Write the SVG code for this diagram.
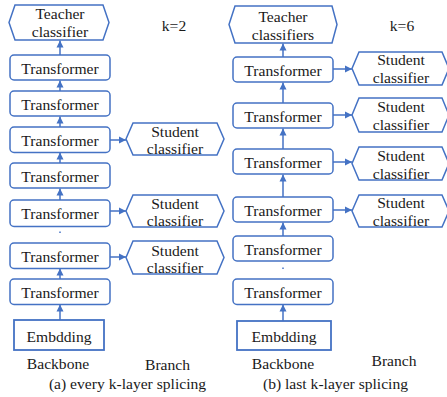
<svg xmlns="http://www.w3.org/2000/svg" width="447" height="397" viewBox="0 0 447 397" font-family="Liberation Serif, Times New Roman, DejaVu Serif, serif">
<defs>
<style>
.box{fill:#fff;stroke:#4472C4;stroke-width:1.5}
.hex{fill:#fff;stroke:#4472C4;stroke-width:1.5;stroke-linejoin:miter}
.emb{fill:#fff;stroke:#4472C4;stroke-width:1.8}
text{font-size:15.6px;fill:#1a1a1a;text-anchor:middle}
.c line{stroke:#4472C4;stroke-width:1.5}
.c .a{marker-end:url(#ah)}
</style>
<marker id="ah" markerUnits="userSpaceOnUse" markerWidth="8" markerHeight="8" refX="7" refY="4" orient="auto">
<path d="M0,0.5 L7,4 L0,7.5 z" fill="#4472C4"/>
</marker>
</defs>
<rect width="447" height="397" fill="#fff"/>

<g class="c" id="connectors">
<line class="a" x1="60" y1="55" x2="60" y2="40.5"/>
<line class="a" x1="60" y1="91" x2="60" y2="80.5"/>
<line class="a" x1="60" y1="127" x2="60" y2="116.5"/>
<line class="a" x1="60" y1="163" x2="60" y2="152.5"/>
<line class="a" x1="60" y1="200" x2="60" y2="188.5"/>
<line x1="60" y1="231.5" x2="60" y2="233" stroke-width="1"/>
<line class="a" x1="60" y1="279" x2="60" y2="268.5"/>
<line class="a" x1="60" y1="320" x2="60" y2="304.5"/>
<line class="a" x1="110" y1="140" x2="126" y2="140"/>
<line class="a" x1="110" y1="211" x2="126" y2="211"/>
<line class="a" x1="110" y1="257" x2="126" y2="257"/>
<line class="a" x1="283" y1="57" x2="283" y2="43.5"/>
<line class="a" x1="283" y1="103" x2="283" y2="82.5"/>
<line class="a" x1="283" y1="149" x2="283" y2="128.5"/>
<line class="a" x1="283" y1="197" x2="283" y2="174.5"/>
<line class="a" x1="283" y1="236" x2="283" y2="222.5"/>
<line x1="283" y1="267.5" x2="283" y2="269" stroke-width="1"/>
<line class="a" x1="283" y1="321" x2="283" y2="304.5"/>
<line class="a" x1="333" y1="69" x2="352" y2="69"/>
<line class="a" x1="333" y1="115" x2="352" y2="115"/>
<line class="a" x1="333" y1="162" x2="352" y2="162"/>
<line class="a" x1="333" y1="210" x2="352" y2="210"/>
</g>

<g id="teacher-a"><polygon class="hex" points="9,22.5 15,5 103,5 109,22.5 103,40 15,40"/><text x="60" y="19">Teacher</text><text x="60" y="37">classifier</text></g>
<g id="a-t1"><rect class="box" x="10" y="55" width="100" height="25" rx="4"/><text x="60" y="73.5">Transformer</text></g>
<g id="a-t2"><rect class="box" x="10" y="91" width="100" height="25" rx="4"/><text x="60" y="109.5">Transformer</text></g>
<g id="a-t3"><rect class="box" x="10" y="127" width="100" height="25.5" rx="4"/><text x="60" y="145.5">Transformer</text></g>
<g id="a-t4"><rect class="box" x="10" y="163" width="100" height="25" rx="4"/><text x="60" y="181.5">Transformer</text></g>
<g id="a-t5"><rect class="box" x="10" y="200" width="100" height="26.5" rx="4"/><text x="60" y="219">Transformer</text></g>
<g id="a-t6"><rect class="box" x="10" y="243" width="100" height="25.5" rx="4"/><text x="60" y="261.5">Transformer</text></g>
<g id="a-t7"><rect class="box" x="10" y="279" width="100" height="25.5" rx="4"/><text x="60" y="297.5">Transformer</text></g>
<g id="a-emb"><rect class="emb" x="14" y="320" width="90" height="30"/><text x="59" y="341.5">Embdding</text></g>
<g id="a-s1"><polygon class="hex" points="126,139 133,123 217,123 224,139 217,155 133,155"/><text x="175" y="137">Student</text><text x="175" y="154">classifier</text></g>
<g id="a-s2"><polygon class="hex" points="126,211 133,195 217,195 224,211 217,227 133,227"/><text x="175" y="209">Student</text><text x="175" y="226">classifier</text></g>
<g id="a-s3"><polygon class="hex" points="126,257.5 133,241 217,241 224,257.5 217,274 133,274"/><text x="175" y="256">Student</text><text x="175" y="273">classifier</text></g>

<g id="teacher-b"><polygon class="hex" points="229,24.5 235,6 332,6 337,24.5 332,43 235,43"/><text x="283" y="21.5">Teacher</text><text x="283" y="40">classifiers</text></g>
<g id="b-t1"><rect class="box" x="233" y="57" width="100" height="25" rx="4"/><text x="283" y="75.5">Transformer</text></g>
<g id="b-t2"><rect class="box" x="233" y="103" width="100" height="25" rx="4"/><text x="283" y="121.5">Transformer</text></g>
<g id="b-t3"><rect class="box" x="233" y="149" width="100" height="25" rx="4"/><text x="283" y="167.5">Transformer</text></g>
<g id="b-t4"><rect class="box" x="233" y="197" width="100" height="25" rx="4"/><text x="283" y="215.5">Transformer</text></g>
<g id="b-t5"><rect class="box" x="233" y="236" width="100" height="25" rx="4"/><text x="283" y="254.5">Transformer</text></g>
<g id="b-t6"><rect class="box" x="233" y="279" width="100" height="25.5" rx="4"/><text x="283" y="297.5">Transformer</text></g>
<g id="b-emb"><rect class="emb" x="237" y="321" width="94" height="29"/><text x="284" y="342">Embdding</text></g>
<g id="b-s1"><polygon class="hex" points="352,68.5 359,52 442,52 449,68.5 442,85 359,85"/><text x="401" y="65">Student</text><text x="401" y="83">classifier</text></g>
<g id="b-s2"><polygon class="hex" points="352,115 359,98 442,98 449,115 442,132 359,132"/><text x="401" y="112">Student</text><text x="401" y="130">classifier</text></g>
<g id="b-s3"><polygon class="hex" points="352,163.5 359,147 442,147 449,163.5 442,180 359,180"/><text x="401" y="161">Student</text><text x="401" y="179">classifier</text></g>
<g id="b-s4"><polygon class="hex" points="352,211 359,195 442,195 449,211 442,227 359,227"/><text x="401" y="208">Student</text><text x="401" y="226">classifier</text></g>

<g id="labels">
<text x="174" y="31">k=2</text>
<text x="402" y="31">k=6</text>
<text x="58" y="369">Backbone</text>
<text x="167.5" y="370">Branch</text>
<text x="283" y="369">Backbone</text>
<text x="394" y="366">Branch</text>
<text x="127.5" y="389">(a) every k-layer splicing</text>
<text x="335.5" y="389">(b) last k-layer splicing</text>
</g>
</svg>
